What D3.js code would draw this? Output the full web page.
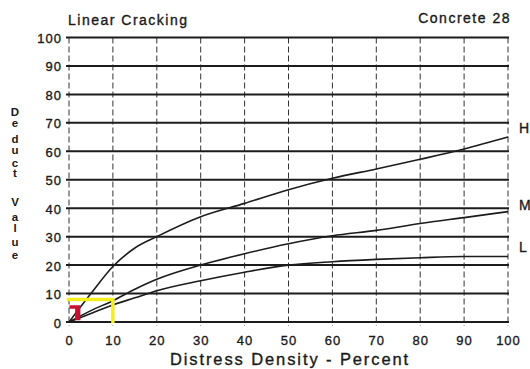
<!DOCTYPE html>
<html>
<head>
<meta charset="utf-8">
<script src="https://cdn.jsdelivr.net/npm/d3@7"></script>
<style>
  html, body { margin: 0; padding: 0; background: #fff; }
  svg { display: block; }
  text { font-family: "Liberation Sans", Arial, sans-serif; fill: #1a1a1a; }
  .heavy { stroke: #1a1a1a; stroke-width: 0.35px; }
</style>
</head>
<body>
<svg id="chart" width="530" height="369"></svg>
<script>
// ---- data ----
const density = [0, 5, 10, 15, 20, 30, 40, 50, 60, 70, 80, 90, 100];
const highSeverity   = [0, 10, 19.5, 26, 30, 37, 41.7, 46.5, 50.5, 53.8, 57.2, 60.8, 65];
const mediumSeverity = [0, 4, 7.5, 11.5, 15, 20, 24, 27.5, 30.3, 32.2, 34.6, 36.7, 38.8];
const lowSeverity    = [0, 3, 6, 8.5, 11, 14.5, 17.5, 20, 21.2, 22, 22.6, 23, 23];
const seriesNames = ["H", "M", "L"];
const xTicks = [0, 10, 20, 30, 40, 50, 60, 70, 80, 90, 100];
const yTicks = [0, 10, 20, 30, 40, 50, 60, 70, 80, 90, 100];
const titleText = "Linear Cracking";
const subtitleText = "Concrete 28";
const xTitle = "Distress Density - Percent";
const yTitle = "Deduct Value";
// highlight annotations (data coordinates)
const yellowBracket = [[-0.5, 7.9], [10, 7.9], [10, -0.4]];
const redMark = [[0.1, 5.9], [2.6, 5.9], [2.6, 0.6], [1.4, 0.6], [1.4, 4.7], [0.1, 4.7]];

// ---- layout ----
const svg = d3.select("#chart");
const x = d3.scaleLinear().domain([0, 100]).range([69, 508]);
const y = d3.scaleLinear().domain([0, 100]).range([322, 37.5]);
const ink = "#1c1c1c";

// vertical dashed grid
svg.append("g").selectAll("line").data(xTicks).join("line")
  .attr("x1", d => x(d)).attr("x2", d => x(d))
  .attr("y1", y(100)).attr("y2", y(0) + 4)
  .attr("stroke", "#333").attr("stroke-width", 1)
  .attr("stroke-dasharray", "6,3");

// horizontal solid grid
svg.append("g").selectAll("line").data(yTicks).join("line")
  .attr("x1", x(0) - 3).attr("x2", x(100) + 1)
  .attr("y1", d => y(d)).attr("y2", d => y(d))
  .attr("stroke", ink).attr("stroke-width", 2);

// y tick labels
svg.append("g").selectAll("text").data(yTicks).join("text")
  .attr("class", "heavy")
  .attr("x", 62).attr("y", d => y(d) + 5.5)
  .attr("text-anchor", "end")
  .style("font-size", "13px").style("letter-spacing", "1px")
  .text(d => d);

// x tick labels
svg.append("g").selectAll("text").data(xTicks).join("text")
  .attr("class", "heavy")
  .attr("x", d => x(d) + 0.5).attr("y", 345)
  .attr("text-anchor", "middle")
  .style("font-size", "13px").style("letter-spacing", "1px")
  .text(d => d);

// curves
const line = d3.line()
  .x((d, i) => x(density[i]))
  .y(d => y(d))
  .curve(d3.curveMonotoneX);
const series = [highSeverity, mediumSeverity, lowSeverity];
svg.append("g").selectAll("path").data(series).join("path")
  .attr("d", d => line(d))
  .attr("fill", "none").attr("stroke", ink).attr("stroke-width", 1.6);

// series labels at the right end
svg.append("g").selectAll("text").data(series).join("text")
  .attr("class", "heavy")
  .attr("x", 519)
  .attr("y", (d, i) => [132.7, 210, 251.5][i])
  .style("font-size", "14px")
  .text((d, i) => seriesNames[i]);

// annotations
svg.append("path")
  .attr("d", d3.line().x(d => x(d[0])).y(d => y(d[1]))(yellowBracket))
  .attr("fill", "none").attr("stroke", "#f3ef1c").attr("stroke-width", 3.5);
svg.append("path")
  .attr("d", d3.line().x(d => x(d[0])).y(d => y(d[1]))(redMark) + "Z")
  .attr("fill", "#c8102e");

// titles
svg.append("text").attr("class", "heavy").attr("x", 68).attr("y", 24.5)
  .style("font-size", "14px").style("letter-spacing", "1.5px")
  .text(titleText);
svg.append("text").attr("class", "heavy").attr("x", 511).attr("y", 22.5)
  .attr("text-anchor", "end")
  .style("font-size", "14px").style("letter-spacing", "1.5px")
  .text(subtitleText);
svg.append("text").attr("class", "heavy").attr("x", 290).attr("y", 365)
  .attr("text-anchor", "middle")
  .style("font-size", "16.5px").style("letter-spacing", "1.9px")
  .text(xTitle);

// vertical stacked y title
const letterY = [111.7, 123.3, 139.3, 150, 162.7, 173.3, 201.7, 216.7, 228.3, 241.7, 255];
const letters = yTitle.replace(" ", "").split("");
svg.append("g").selectAll("text").data(letters).join("text")
  .attr("x", 15).attr("y", (d, i) => letterY[i] + 4)
  .attr("text-anchor", "middle")
  .style("font-size", "11.5px").style("font-weight", "bold")
  .text(d => d);
</script>
</body>
</html>
